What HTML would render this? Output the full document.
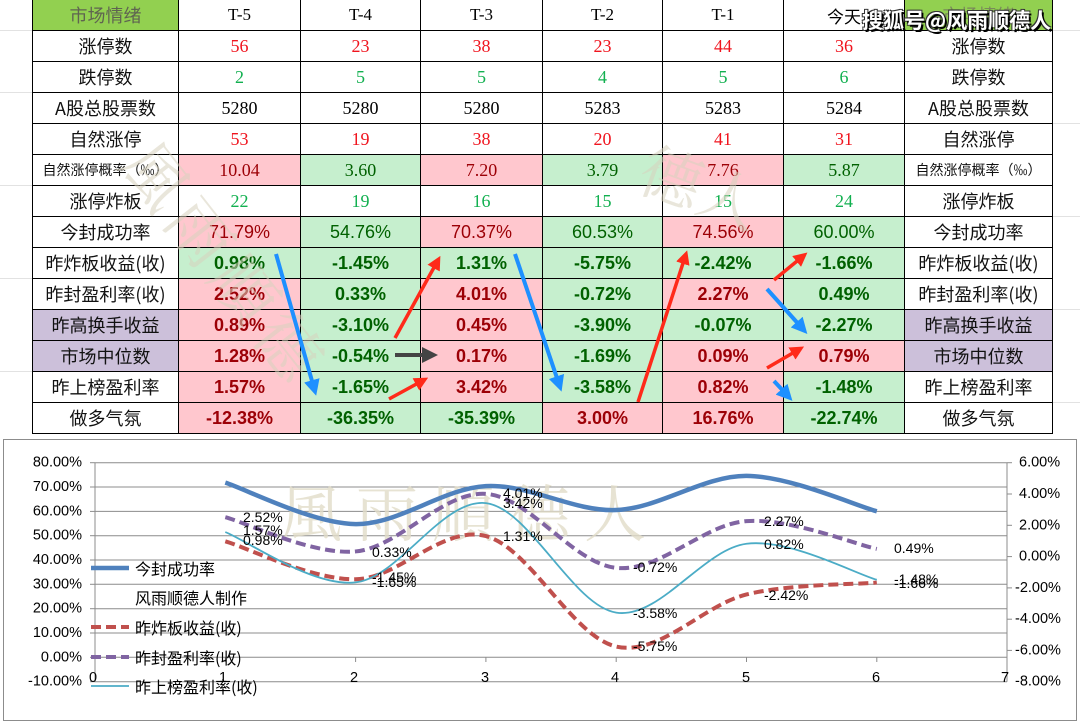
<!DOCTYPE html>
<html><head><meta charset="utf-8"><style>
body{margin:0;width:1080px;height:722px;overflow:hidden;background:#fff;position:relative;font-family:"Liberation Sans","Noto Sans CJK SC",sans-serif}
.gl{position:absolute;background:#e2e2e2}
table{position:absolute;left:32px;top:-1px;border-collapse:collapse;table-layout:fixed}
td{border:1px solid #000;height:30px;padding:0;text-align:center;vertical-align:middle;font-size:18px;white-space:nowrap;overflow:hidden}
td.l{font-family:"Noto Sans CJK SC",sans-serif;font-size:18px;color:#111}
td.s{font-size:14px}
.hd{font-family:"Liberation Serif","Noto Serif CJK SC",serif;font-size:17px;color:#000}
.sf{font-family:"Liberation Serif","Noto Serif CJK SC",serif;font-size:18px}
.r{color:#f0141e}.g{color:#12b050}.k{color:#000}
.P{background:#ffc7ce;color:#9c0006}.G{background:#c6efce;color:#006100}
.V{background:#ccc0da}
.b td.P,.b td.G{font-weight:bold}
.wm{position:absolute;color:rgba(215,210,190,0.55);font-family:"Noto Serif CJK SC",serif;white-space:nowrap}
</style></head><body>
<div class="gl" style="left:0;top:30px;width:32px;height:1px"></div>
<div class="gl" style="left:0;top:92px;width:32px;height:1px"></div>
<div class="gl" style="left:0;top:185px;width:32px;height:1px"></div>
<div class="gl" style="left:0;top:278px;width:32px;height:1px"></div>
<div class="gl" style="left:0;top:371px;width:32px;height:1px"></div>
<div class="gl" style="left:1052px;top:30px;width:28px;height:1px"></div>
<div class="gl" style="left:1052px;top:123px;width:28px;height:1px"></div>
<div class="gl" style="left:1052px;top:216px;width:28px;height:1px"></div>
<div class="gl" style="left:1052px;top:309px;width:28px;height:1px"></div>
<div class="gl" style="left:1052px;top:402px;width:28px;height:1px"></div>
<table>
<colgroup><col style="width:146px"><col style="width:122px"><col style="width:120px"><col style="width:122px"><col style="width:120px"><col style="width:121px"><col style="width:121px"><col style="width:148px"></colgroup>
<tr><td class="l" style="background:#92d050;color:#5f6450">市场情绪</td><td class="hd">T-5</td><td class="hd">T-4</td><td class="hd">T-3</td><td class="hd">T-2</td><td class="hd">T-1</td><td class="hd" style="font-family:'Noto Sans CJK SC',sans-serif">今天</td><td class="l" style="background:#92d050;color:#7a8a5a">市场情绪</td></tr>
<tr><td class="l">涨停数</td><td class="sf r">56</td><td class="sf r">23</td><td class="sf r">38</td><td class="sf r">23</td><td class="sf r">44</td><td class="sf r">36</td><td class="l">涨停数</td></tr>
<tr><td class="l">跌停数</td><td class="sf g">2</td><td class="sf g">5</td><td class="sf g">5</td><td class="sf g">4</td><td class="sf g">5</td><td class="sf g">6</td><td class="l">跌停数</td></tr>
<tr><td class="l">A股总股票数</td><td class="sf k">5280</td><td class="sf k">5280</td><td class="sf k">5280</td><td class="sf k">5283</td><td class="sf k">5283</td><td class="sf k">5284</td><td class="l">A股总股票数</td></tr>
<tr><td class="l">自然涨停</td><td class="sf r">53</td><td class="sf r">19</td><td class="sf r">38</td><td class="sf r">20</td><td class="sf r">41</td><td class="sf r">31</td><td class="l">自然涨停</td></tr>
<tr><td class="l s">自然涨停概率（‰）</td><td class="sf P">10.04</td><td class="sf G">3.60</td><td class="sf P">7.20</td><td class="sf G">3.79</td><td class="sf P">7.76</td><td class="sf G">5.87</td><td class="l s">自然涨停概率（‰）</td></tr>
<tr><td class="l">涨停炸板</td><td class="sf g">22</td><td class="sf g">19</td><td class="sf g">16</td><td class="sf g">15</td><td class="sf g">15</td><td class="sf g">24</td><td class="l">涨停炸板</td></tr>
<tr><td class="l">今封成功率</td><td class="P">71.79%</td><td class="G">54.76%</td><td class="P">70.37%</td><td class="G">60.53%</td><td class="P">74.56%</td><td class="G">60.00%</td><td class="l">今封成功率</td></tr>
<tr class="b"><td class="l">昨炸板收益(收)</td><td class="G">0.98%</td><td class="G">-1.45%</td><td class="G">1.31%</td><td class="G">-5.75%</td><td class="G">-2.42%</td><td class="G">-1.66%</td><td class="l">昨炸板收益(收)</td></tr>
<tr class="b"><td class="l">昨封盈利率(收)</td><td class="P">2.52%</td><td class="G">0.33%</td><td class="P">4.01%</td><td class="G">-0.72%</td><td class="P">2.27%</td><td class="G">0.49%</td><td class="l">昨封盈利率(收)</td></tr>
<tr class="b"><td class="l V">昨高换手收益</td><td class="P">0.89%</td><td class="G">-3.10%</td><td class="P">0.45%</td><td class="G">-3.90%</td><td class="G">-0.07%</td><td class="G">-2.27%</td><td class="l V">昨高换手收益</td></tr>
<tr class="b"><td class="l V">市场中位数</td><td class="P">1.28%</td><td class="G">-0.54%</td><td class="P">0.17%</td><td class="G">-1.69%</td><td class="P">0.09%</td><td class="P">0.79%</td><td class="l V">市场中位数</td></tr>
<tr class="b"><td class="l">昨上榜盈利率</td><td class="P">1.57%</td><td class="G">-1.65%</td><td class="P">3.42%</td><td class="G">-3.58%</td><td class="P">0.82%</td><td class="G">-1.48%</td><td class="l">昨上榜盈利率</td></tr>
<tr class="b"><td class="l">做多气氛</td><td class="P">-12.38%</td><td class="G">-36.35%</td><td class="G">-35.39%</td><td class="P">3.00%</td><td class="P">16.76%</td><td class="G">-22.74%</td><td class="l">做多气氛</td></tr>
</table>
<div class="wm" style="left:120px;top:215px;font-size:64px;transform:rotate(52deg);transform-origin:0 0;left:175px;top:120px;letter-spacing:8px">風雨順德</div>
<div class="wm" style="left:640px;top:140px;font-size:62px;transform:rotate(20deg)">德人</div>
<svg style="position:absolute;left:0;top:0" width="1080" height="440">
<defs>
<marker id="mb" markerWidth="4" markerHeight="4" refX="2" refY="2" orient="auto"><path d="M0,0 L4,2 L0,4 z" fill="#1e90ff"/></marker>
<marker id="mr" markerWidth="4" markerHeight="4" refX="2" refY="2" orient="auto"><path d="M0,0 L4,2 L0,4 z" fill="#ff2a1a"/></marker>
<marker id="mg" markerWidth="4" markerHeight="4" refX="2" refY="2" orient="auto"><path d="M0,0 L4,2 L0,4 z" fill="#444"/></marker>
</defs>
<g stroke="#1e90ff" stroke-width="4" marker-end="url(#mb)">
<line x1="276" y1="254" x2="314" y2="388"/><line x1="515" y1="254" x2="559" y2="384"/><line x1="767" y1="289" x2="802" y2="328"/><line x1="774" y1="381" x2="787" y2="395"/></g>
<g stroke="#ff2a1a" stroke-width="3.5" marker-end="url(#mr)">
<line x1="395" y1="338" x2="437" y2="262"/><line x1="389" y1="399" x2="422" y2="381"/><line x1="638" y1="402" x2="685" y2="257"/><line x1="774" y1="280" x2="802" y2="257"/><line x1="767" y1="368" x2="798" y2="350"/></g>
<line x1="395" y1="355" x2="430" y2="355" stroke="#444" stroke-width="4" marker-end="url(#mg)"/>
</svg>
<div style="position:absolute;left:862px;top:6px;font-size:21px;font-weight:bold;color:#fff;font-family:'Noto Sans CJK SC',sans-serif;line-height:28px;text-shadow:2px 2px 0 #000,-1px -1px 0 #333,1px -1px 0 #333,-1px 1px 0 #333">搜狐号@风雨顺德人</div>

<svg style="position:absolute;left:0;top:0" width="1080" height="722" font-family="Liberation Sans, Noto Sans CJK SC, sans-serif">
<rect x="3.5" y="439.5" width="1073" height="281" fill="#fff" stroke="#8c8c8c"/>
<g stroke="#8c8c8c" stroke-width="1">
<line x1="95" y1="462.7" x2="1007" y2="462.7"/><line x1="95" y1="487" x2="1007" y2="487"/><line x1="95" y1="511.4" x2="1007" y2="511.4"/><line x1="95" y1="535.7" x2="1007" y2="535.7"/><line x1="95" y1="560" x2="1007" y2="560"/><line x1="95" y1="584.3" x2="1007" y2="584.3"/><line x1="95" y1="608.7" x2="1007" y2="608.7"/><line x1="95" y1="633" x2="1007" y2="633"/><line x1="95" y1="657.3" x2="1007" y2="657.3"/><line x1="95" y1="681.7" x2="1007" y2="681.7"/>
<line x1="95" y1="462.7" x2="95" y2="681.7"/><line x1="1007" y1="462.7" x2="1007" y2="681.7"/>
<line x1="225.3" y1="657.3" x2="225.3" y2="662"/><line x1="355.6" y1="657.3" x2="355.6" y2="662"/><line x1="485.9" y1="657.3" x2="485.9" y2="662"/><line x1="616.2" y1="657.3" x2="616.2" y2="662"/><line x1="746.5" y1="657.3" x2="746.5" y2="662"/><line x1="876.8" y1="657.3" x2="876.8" y2="662"/>
<line x1="1007" y1="462.7" x2="1012" y2="462.7"/><line x1="1007" y1="494" x2="1012" y2="494"/><line x1="1007" y1="525.3" x2="1012" y2="525.3"/><line x1="1007" y1="556.6" x2="1012" y2="556.6"/><line x1="1007" y1="587.9" x2="1012" y2="587.9"/><line x1="1007" y1="619.2" x2="1012" y2="619.2"/><line x1="1007" y1="650.4" x2="1012" y2="650.4"/>
<line x1="90" y1="462.7" x2="95" y2="462.7"/><line x1="90" y1="487" x2="95" y2="487"/><line x1="90" y1="511.4" x2="95" y2="511.4"/><line x1="90" y1="535.7" x2="95" y2="535.7"/><line x1="90" y1="560" x2="95" y2="560"/><line x1="90" y1="584.3" x2="95" y2="584.3"/><line x1="90" y1="608.7" x2="95" y2="608.7"/><line x1="90" y1="633" x2="95" y2="633"/><line x1="90" y1="657.3" x2="95" y2="657.3"/><line x1="90" y1="681.7" x2="95" y2="681.7"/>
</g>
<g font-size="14.5" fill="#000" text-anchor="end" dominant-baseline="central">
<text x="82" y="462.7">80.00%</text><text x="82" y="487">70.00%</text><text x="82" y="511.4">60.00%</text><text x="82" y="535.7">50.00%</text><text x="82" y="560">40.00%</text><text x="82" y="584.3">30.00%</text><text x="82" y="608.7">20.00%</text><text x="82" y="633">10.00%</text><text x="82" y="657.3">0.00%</text><text x="82" y="681.7">-10.00%</text>
</g>
<g font-size="14.5" fill="#000" dominant-baseline="central">
<text x="1019" y="462.7">6.00%</text><text x="1019" y="494">4.00%</text><text x="1019" y="525.3">2.00%</text><text x="1019" y="556.6">0.00%</text><text x="1015" y="587.9">-2.00%</text><text x="1015" y="619.2">-4.00%</text><text x="1015" y="650.4">-6.00%</text><text x="1015" y="681.7">-8.00%</text>
</g>
<g font-size="14.5" fill="#000" text-anchor="middle" dominant-baseline="central">
<text x="93" y="678">0</text><text x="223" y="678">1</text><text x="354" y="678">2</text><text x="485" y="678">3</text><text x="615" y="678">4</text><text x="746" y="678">5</text><text x="876" y="678">6</text><text x="1005" y="678">7</text>
</g>
<text x="280" y="536" font-size="62" fill="rgba(225,220,200,0.8)" font-family="Noto Serif CJK SC, serif" letter-spacing="14">風雨順德人</text>
<path id="s0" fill="none" stroke="#4f81bd" stroke-width="4.5"/>
<path id="s1" fill="none" stroke="#c0504d" stroke-width="4" stroke-dasharray="10,5"/>
<path id="s2" fill="none" stroke="#8064a2" stroke-width="4" stroke-dasharray="10,5"/>
<path id="s3" fill="none" stroke="#4bacc6" stroke-width="1.8"/>
<g font-size="14" fill="#000" dominant-baseline="central">
<text x="243" y="517">2.52%</text><text x="243" y="530">1.57%</text><text x="243" y="540">0.98%</text>
<text x="372" y="552">0.33%</text><text x="372" y="577">-1.45%</text><text x="372" y="582">-1.65%</text>
<text x="503" y="493">4.01%</text><text x="503" y="503">3.42%</text><text x="503" y="536">1.31%</text>
<text x="633" y="567">-0.72%</text><text x="633" y="613">-3.58%</text><text x="633" y="646">-5.75%</text>
<text x="764" y="521">2.27%</text><text x="764" y="544">0.82%</text><text x="764" y="595">-2.42%</text>
<text x="894" y="548">0.49%</text><text x="894" y="579">-1.48%</text><text x="894" y="583">-1.66%</text>
</g>
<g font-size="16" fill="#000" font-family="Noto Sans CJK SC, sans-serif" dominant-baseline="central">
<line x1="91" y1="568" x2="129" y2="568" stroke="#4f81bd" stroke-width="4.5"/>
<text x="135" y="568">今封成功率</text>
<text x="135" y="597">风雨顺德人制作</text>
<line x1="91" y1="627" x2="129" y2="627" stroke="#c0504d" stroke-width="4" stroke-dasharray="10,5"/>
<text x="135" y="627">昨炸板收益(收)</text>
<line x1="91" y1="657" x2="129" y2="657" stroke="#8064a2" stroke-width="4" stroke-dasharray="10,5"/>
<text x="135" y="657">昨封盈利率(收)</text>
<line x1="91" y1="686" x2="129" y2="686" stroke="#4bacc6" stroke-width="1.8"/>
<text x="135" y="686">昨上榜盈利率(收)</text>
</g>
</svg>
<script>
(function(){
function X(i){return 95+130.3*i;}
function YL(v){return 657.3-v*2.433;}
function YR(v){return 556.6-v*15.645;}
var d=[[71.79,54.76,70.37,60.53,74.56,60.00,YL],[0.98,-1.45,1.31,-5.75,-2.42,-1.66,YR],[2.52,0.33,4.01,-0.72,2.27,0.49,YR],[1.57,-1.65,3.42,-3.58,0.82,-1.48,YR]];
d.forEach(function(s,k){var f=s[6],p=[];for(var i=0;i<6;i++)p.push([X(i+1),f(s[i])]);
var str="M"+p[0][0]+","+p[0][1];
for(var i=0;i<5;i++){var a=p[Math.max(i-1,0)],b=p[i],c=p[i+1],e=p[Math.min(i+2,5)];
var c1x=b[0]+(c[0]-a[0])/6,c1y=b[1]+(c[1]-a[1])/6,c2x=c[0]-(e[0]-b[0])/6,c2y=c[1]-(e[1]-b[1])/6;
str+=" C"+c1x+","+c1y+" "+c2x+","+c2y+" "+c[0]+","+c[1];}
document.getElementById("s"+k).setAttribute("d",str);});
})();
</script>
</body></html>
